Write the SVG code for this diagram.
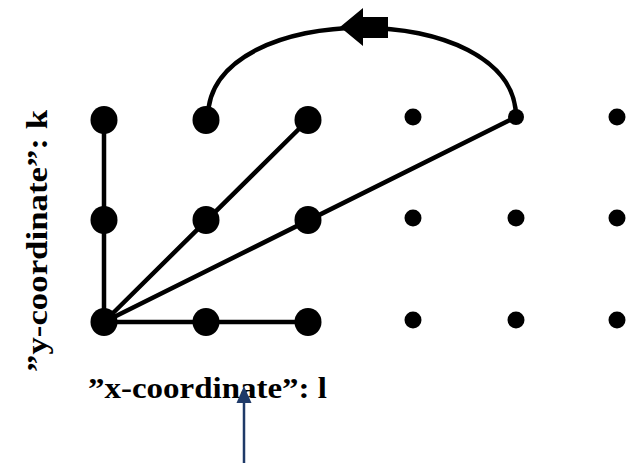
<svg xmlns="http://www.w3.org/2000/svg" width="633" height="463" viewBox="0 0 633 463">
  <style>
    .big { fill: #000; }
    .small { fill: #000; }
    .edge { stroke: #000; stroke-width: 4.5; fill: none; stroke-linecap: round; }
    .label { font-family: "Liberation Serif", "Times New Roman", serif; font-weight: bold; font-size: 29.5px; fill: #000; }
    .pointer { stroke: #1F3A68; stroke-width: 2.5; fill: none; }
  </style>
  <rect width="633" height="463" fill="#fff"/>

  <!-- connectors -->
  <g id="connectors">
    <line class="edge" x1="104" y1="322" x2="104" y2="120"/>
    <line class="edge" x1="104" y1="322" x2="308" y2="322"/>
    <line class="edge" x1="104" y1="322" x2="308" y2="120"/>
    <line class="edge" x1="104" y1="322" x2="516" y2="117"/>
    <path class="edge" d="M208,117 C208,-2 516,-2 516,117"/>
    <polygon points="340,27 363,8 363,17 388,17 388,38 363,38 363,46" fill="#000"/>
  </g>

  <!-- lattice points, row k=2 -->
  <g id="p-0-2"><ellipse class="big" cx="104" cy="120" rx="13.5" ry="14"/></g>
  <g id="p-1-2"><ellipse class="big" cx="206" cy="120" rx="13.5" ry="14"/></g>
  <g id="p-2-2"><ellipse class="big" cx="308" cy="120" rx="13.5" ry="14"/></g>
  <g id="p-3-2"><circle class="small" cx="413" cy="117" r="8.5"/></g>
  <g id="p-4-2"><circle class="small" cx="516" cy="117" r="8"/></g>
  <g id="p-5-2"><circle class="small" cx="617" cy="117" r="8.5"/></g>

  <!-- row k=1 -->
  <g id="p-0-1"><ellipse class="big" cx="104" cy="220" rx="13.5" ry="14"/></g>
  <g id="p-1-1"><ellipse class="big" cx="206" cy="220" rx="13.5" ry="14"/></g>
  <g id="p-2-1"><ellipse class="big" cx="308" cy="220" rx="13.5" ry="14"/></g>
  <g id="p-3-1"><circle class="small" cx="413" cy="218" r="8.5"/></g>
  <g id="p-4-1"><circle class="small" cx="516" cy="218" r="8.5"/></g>
  <g id="p-5-1"><circle class="small" cx="617" cy="218" r="8.5"/></g>

  <!-- row k=0 -->
  <g id="p-0-0"><ellipse class="big" cx="104" cy="322" rx="13.5" ry="14"/></g>
  <g id="p-1-0"><ellipse class="big" cx="206" cy="322" rx="13.5" ry="14"/></g>
  <g id="p-2-0"><ellipse class="big" cx="308" cy="322" rx="13.5" ry="14"/></g>
  <g id="p-3-0"><circle class="small" cx="413" cy="320" r="8.5"/></g>
  <g id="p-4-0"><circle class="small" cx="516" cy="320" r="8.5"/></g>
  <g id="p-5-0"><circle class="small" cx="617" cy="320" r="8.5"/></g>

  <!-- axis labels -->
  <g id="y-label">
    <text class="label" transform="translate(47,372) rotate(-90)" x="0" y="0" textLength="262" lengthAdjust="spacingAndGlyphs">”y-coordinate”: k</text>
  </g>
  <g id="x-label">
    <text class="label" x="88" y="398" textLength="239" lengthAdjust="spacingAndGlyphs">”x-coordinate”: l</text>
  </g>

  <!-- pointer arrow -->
  <g id="pointer">
    <line class="pointer" x1="244" y1="463" x2="244" y2="400"/>
    <polygon points="244,386 236.5,403 251.5,403" fill="#1F3A68"/>
  </g>
</svg>
